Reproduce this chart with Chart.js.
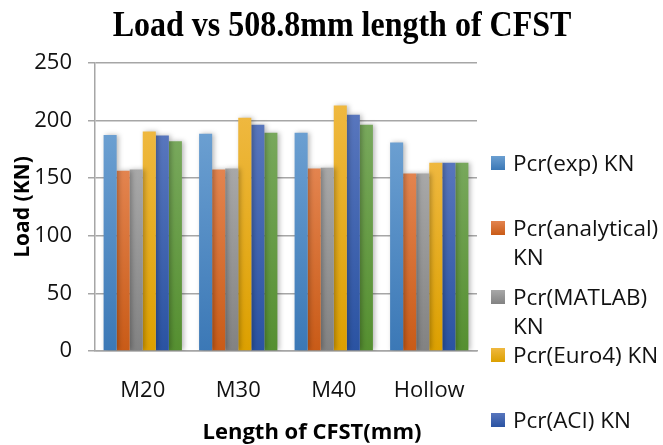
<!DOCTYPE html>
<html>
<head>
<meta charset="utf-8">
<script src="https://cdn.jsdelivr.net/npm/chart.js@4.4.1/dist/chart.umd.min.js"></script>
<style>
  html, body { margin: 0; padding: 0; background: #fff; }
  #wrap { position: relative; width: 663px; height: 445px; overflow: hidden; }
  #chart { position: absolute; left: 0; top: 0; }
  .lg-item { position: absolute; left: 491px; width: 172px; font: 22.5px "Open Sans", sans-serif;
             line-height: 29px; color: #111; white-space: nowrap; }
  .lg-box { position: absolute; left: 0; top: 8px; width: 14px; height: 14px; }
  .lg-text { position: absolute; left: 22px; top: 0; width: 152px; white-space: normal; }
</style>
</head>
<body>
<div id="wrap">
  <canvas id="chart" width="663" height="445"></canvas>
  <div id="legend"></div>
</div>
<script>
// categories and series (kN)
const categories = ["M20", "M30", "M40", "Hollow"];
const seriesNames = ["Pcr(exp) KN", "Pcr(analytical) KN", "Pcr(MATLAB) KN", "Pcr(Euro4) KN", "Pcr(ACI) KN", "Pcr(ANSYS) KN"];
const pcrExp        = [187.5, 188.5, 189.5, 181];
const pcrAnalytical = [156.5, 157.5, 158.5, 154];
const pcrMatlab     = [157.5, 158.5, 159, 154];
const pcrEuro4      = [190.5, 202.5, 213, 163.5];
const pcrAci        = [187, 196.5, 205, 163.5];
const pcrAnsys      = [182, 189.5, 196.5, 163.5];
const yTicks = [0, 50, 100, 150, 200, 250];

// top / bottom gradient stops per series
const colorTop = ["#6b9fd1", "#e3844f", "#a8a8a8", "#efb83f", "#5876bd", "#78a85c"];
const colorBot = ["#3b78b6", "#c95b17", "#828282", "#dca000", "#2a53a2", "#558f30"];

const allSeries = [pcrExp, pcrAnalytical, pcrMatlab, pcrEuro4, pcrAci, pcrAnsys];

function barGradient(i) {
  return (ctx) => {
    const chart = ctx.chart;
    if (ctx.type !== "data" || !chart.chartArea) return colorBot[i];
    const ys = chart.scales.y;
    const top = ys.getPixelForValue(ctx.raw);
    const bottom = ys.getPixelForValue(0);
    const g = chart.ctx.createLinearGradient(0, top, 0, bottom);
    g.addColorStop(0, colorTop[i]);
    g.addColorStop(1, colorBot[i]);
    return g;
  };
}

// soft shadow behind the bars
const barShadow = {
  id: "barShadow",
  beforeDatasetsDraw(chart) {
    const c = chart.ctx;
    c.save();
    c.shadowColor = "rgba(0,0,0,0.28)";
    c.shadowBlur = 5;
    c.shadowOffsetX = 2;
    c.shadowOffsetY = 0;
  },
  afterDatasetsDraw(chart) { chart.ctx.restore(); },
};

// chart title and x axis title, placed like the original
const titles = {
  id: "titles",
  afterDraw(chart) {
    const c = chart.ctx;
    c.save();
    c.fillStyle = "#000";
    c.textAlign = "center";
    c.textBaseline = "alphabetic";
    c.font = 'bold 32px "Liberation Serif", "Times New Roman", serif';
    c.translate(342, 36);
    c.scale(1, 1.1);
    c.fillText("Load vs 508.8mm length of CFST", 0, 0);
    c.restore();

    c.save();
    c.fillStyle = "#000";
    c.textAlign = "center";
    c.textBaseline = "middle";
    c.font = 'bold 22px "Open Sans", sans-serif';
    c.fillText("Length of CFST(mm)", 312, 433);
    c.restore();
  },
};

const datasets = allSeries.map((data, i) => ({
  label: seriesNames[i],
  data,
  backgroundColor: barGradient(i),
  borderWidth: 0,
  barPercentage: 1,
  categoryPercentage: 0.82,
}));

new Chart(document.getElementById("chart"), {
  type: "bar",
  data: { labels: categories, datasets },
  plugins: [barShadow, titles],
  options: {
    responsive: false,
    animation: false,
    layout: { padding: { left: 0, right: 186, top: 63, bottom: 0 } },
    plugins: { legend: { display: false }, title: { display: false }, tooltip: { enabled: false } },
    scales: {
      x: {
        grid: { display: false, drawTicks: false },
        border: { display: true, color: "#a6a6a6", width: 1.5 },
        ticks: { color: "#111", padding: 27, font: { family: "Open Sans", size: 22 } },
        afterFit: (s) => { s.height = 94; },
      },
      y: {
        min: 0,
        max: 250,
        afterBuildTicks: (s) => { s.ticks = yTicks.map((v) => ({ value: v })); },
        grid: { color: "#a6a6a6", lineWidth: 1.5, tickLength: 7 },
        border: { display: true, color: "#a6a6a6", width: 1.5 },
        ticks: { color: "#111", padding: 16, font: { family: "Open Sans", size: 22 } },
        title: {
          display: true,
          text: "Load (KN)",
          color: "#000",
          padding: { top: 10, bottom: 0 },
          font: { family: "Open Sans", size: 21, weight: "bold" },
        },
        afterFit: (s) => { s.width = 95; },
      },
    },
  },
});

// legend: only the first five entries fit, as in the original
const legendTops = [148, 213, 282, 340, 405];
const legendEl = document.getElementById("legend");
legendTops.forEach((top, i) => {
  const item = document.createElement("div");
  item.className = "lg-item";
  item.style.top = top + "px";
  item.innerHTML = `<span class="lg-box" style="background:linear-gradient(${colorTop[i]},${colorBot[i]})"></span>` +
    `<span class="lg-text">${seriesNames[i]}</span>`;
  legendEl.appendChild(item);
});
</script>
</body>
</html>
